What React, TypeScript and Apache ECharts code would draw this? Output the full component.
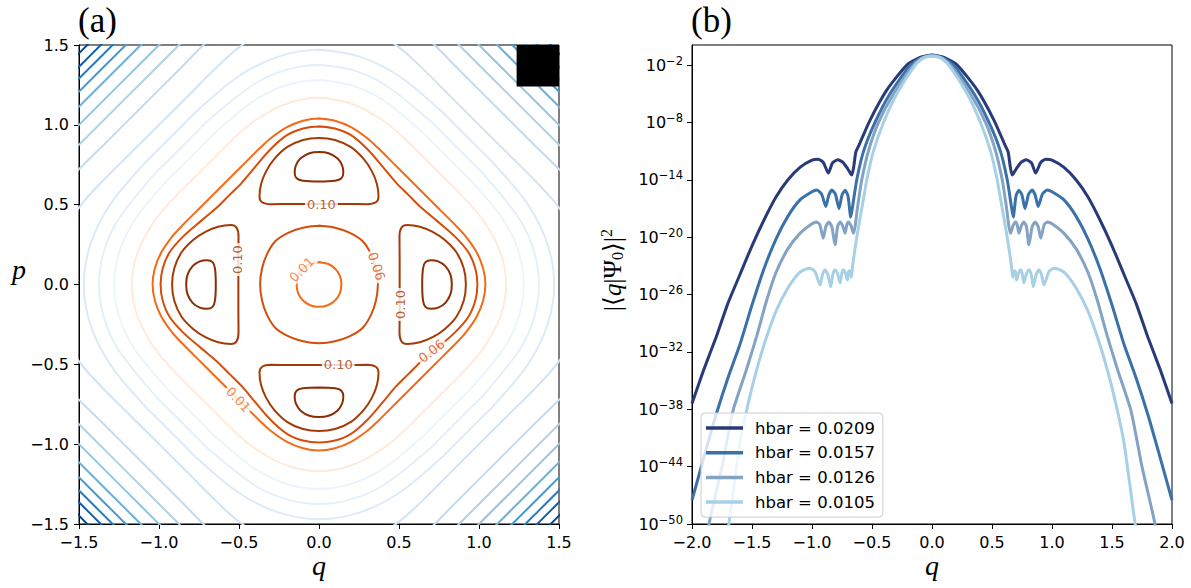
import { useEffect, useRef } from "react";
import * as echarts from "echarts";

type Pt = [number, number];

// ---------------- Panel (a): contours in the (q, p) plane ----------------
// Closed contours share the square's eight-fold symmetry; each one is traced
// over a single octant, from the p axis (q = 0) out to the diagonal q = p.
const faintLevelOctant: Pt[] = [[0, 1.17], [0.2, 1.134], [0.4, 1.027], [0.56, 0.89], [0.64, 0.81], [0.725, 0.725]];
const level001Octant: Pt[] = [[0, 1.04], [0.1, 1.026], [0.2, 0.986], [0.3, 0.918], [0.368, 0.856], [0.49, 0.734], [0.612, 0.612]];
const level006Octant: Pt[] = [[0, 0.99], [0.1, 0.977], [0.2, 0.935], [0.3, 0.85], [0.4, 0.735], [0.48, 0.64], [0.56, 0.56]];
const centre006Octant: Pt[] = [[0, 0.368], [0.1, 0.356], [0.19, 0.325], [0.272, 0.272]];
const centre001Octant: Pt[] = [[0, 0.14], [0.055, 0.13], [0.1, 0.1]];

// Outer family, innermost first; the outer ones leave the frame.
const blueOctants: Pt[][] = [
  [[0, 1.28], [0.2, 1.249], [0.4, 1.155], [0.64, 0.96], [0.72, 0.88], [0.8, 0.8]],
  [[0, 1.375], [0.2, 1.346], [0.4, 1.259], [0.69, 1.03], [0.78, 0.94], [0.86, 0.86]],
  [[0, 1.47], [0.25, 1.429], [0.5, 1.306], [0.76, 1.09], [0.84, 1.01], [0.925, 0.925]],
  [[0, 1.68], [0.3, 1.61], [0.494, 1.49], [0.64, 1.36], [0.82, 1.18], [1.0, 1.0]],
  [[0, 1.9], [0.4, 1.78], [0.64, 1.58], [0.88, 1.34], [1.11, 1.11]],
  [[0, 2.07], [0.6, 1.775], [0.9, 1.475], [1.1875, 1.1875]],
  [[0, 2.2], [0.6, 1.9], [0.95, 1.55], [1.25, 1.25]],
  [[0, 2.31], [0.6, 2.014], [1.0, 1.614], [1.307, 1.307]],
  [[0, 2.41], [0.6, 2.108], [1.0, 1.708], [1.354, 1.354]],
  [[0, 2.49], [0.6, 2.19], [1.0, 1.79], [1.395, 1.395]],
  [[0, 2.56], [0.6, 2.264], [1.0, 1.864], [1.432, 1.432]],
  [[0, 2.65], [0.6, 2.348], [1.0, 1.948], [1.474, 1.474]],
];

// The upper island, traced in full; the other three are its quarter turns.
const island010Upper: Pt[] = [
  [0, 0.504], [0.17, 0.504], [0.3, 0.503], [0.355, 0.515], [0.372, 0.55], [0.362, 0.63],
  [0.33, 0.71], [0.28, 0.785], [0.2, 0.86], [0.1, 0.905], [0, 0.918], [-0.1, 0.905],
  [-0.2, 0.86], [-0.28, 0.785], [-0.33, 0.71], [-0.362, 0.63], [-0.372, 0.55],
  [-0.355, 0.515], [-0.3, 0.503], [-0.17, 0.504], [0, 0.504],
];
const islandCoreUpper: Pt[] = [
  [0, 0.645], [0.1, 0.65], [0.14, 0.665], [0.152, 0.7], [0.145, 0.745], [0.115, 0.79],
  [0.06, 0.822], [0, 0.83], [-0.06, 0.822], [-0.115, 0.79], [-0.145, 0.745], [-0.152, 0.7],
  [-0.14, 0.665], [-0.1, 0.65], [0, 0.645],
];

// Inline level labels
const levelLabelText = ["0.10", "0.10", "0.10", "0.10", "0.06", "0.01", "0.06", "0.01"];
const levelLabelAt: Pt[] = [
  [0.015, 0.504], [0.12, -0.503], [-0.508, 0.156], [0.508, -0.125],
  [0.36, 0.114], [-0.108, 0.094], [0.704, -0.417], [-0.504, -0.72],
];
const levelLabelAngle = [0, 0, 90, 90, -72, 45, 38, -47];

// Filled block in the upper-right corner: [q0, p0, q1, p1]
const cornerBlock = [1.235, 1.24, 1.5, 1.5];

// ---------------- Panel (b): log10 |<q|Psi_0>|^2 ----------------
const hbarValues = ["0.0209", "0.0157", "0.0126", "0.0105"];
// Traced for q <= 0; every curve is even in q.
const logPsi0209: Pt[] = [
  [-2.0, -37.4], [-1.9, -33.8], [-1.8, -30.5], [-1.7, -26.9], [-1.6, -23.9], [-1.5, -20.9],
  [-1.4, -18.2], [-1.3, -15.8], [-1.2, -14.0], [-1.1, -12.7], [-1.0, -11.95], [-0.947, -11.85],
  [-0.905, -12.2], [-0.864, -13.3], [-0.83, -12.25], [-0.785, -11.9], [-0.74, -12.2],
  [-0.7, -12.9], [-0.668, -13.5], [-0.652, -12.6], [-0.635, -11.1], [-0.613, -10.5],
  [-0.516, -7.75], [-0.376, -4.6], [-0.21, -2.0], [-0.1, -1.2], [0, -0.95],
];
const logPsi0157: Pt[] = [
  [-2.0, -47.5], [-1.9, -43.0], [-1.8, -38.6], [-1.7, -34.7], [-1.6, -31.2], [-1.5, -27.1],
  [-1.4, -23.3], [-1.3, -20.2], [-1.2, -17.8], [-1.1, -16.1], [-1.0, -15.25], [-0.961, -15.07],
  [-0.92, -15.5], [-0.885, -16.8], [-0.86, -15.6], [-0.835, -15.07], [-0.805, -15.5],
  [-0.775, -17.0], [-0.75, -15.6], [-0.724, -15.1], [-0.7, -15.7], [-0.677, -17.9],
  [-0.663, -16.9], [-0.627, -14.0], [-0.57, -11.0], [-0.475, -8.0], [-0.35, -5.0],
  [-0.18, -2.0], [-0.09, -1.25], [0, -0.98],
];
const logPsi0126: Pt[] = [
  [-1.9, -53.0], [-1.85, -49.5], [-1.75, -44.0], [-1.657, -38.1], [-1.55, -34.0],
  [-1.462, -30.4], [-1.38, -26.7], [-1.3, -23.7], [-1.2, -21.2], [-1.1, -19.6], [-1.0, -18.6],
  [-0.961, -18.4], [-0.935, -18.7], [-0.906, -20.1], [-0.885, -18.9], [-0.86, -18.4],
  [-0.835, -18.9], [-0.808, -20.8], [-0.787, -18.9], [-0.766, -18.4], [-0.745, -18.8],
  [-0.724, -19.6], [-0.71, -18.7], [-0.697, -18.4], [-0.675, -18.8], [-0.655, -19.6],
  [-0.64, -18.8], [-0.622, -17.0], [-0.585, -14.0], [-0.53, -11.0], [-0.446, -8.0],
  [-0.32, -5.0], [-0.154, -2.0], [-0.08, -1.25], [0, -1.02],
];
const logPsi0105: Pt[] = [
  [-1.75, -55.0], [-1.684, -49.2], [-1.6, -41.5], [-1.53, -37.3], [-1.462, -33.9],
  [-1.38, -30.5], [-1.295, -27.6], [-1.2, -25.3], [-1.12, -23.9], [-1.073, -23.45],
  [-1.017, -23.25], [-0.975, -23.6], [-0.933, -25.0], [-0.91, -23.8], [-0.891, -23.4],
  [-0.868, -23.9], [-0.844, -25.2], [-0.825, -23.8], [-0.808, -23.4], [-0.787, -23.8],
  [-0.766, -24.8], [-0.752, -23.8], [-0.739, -23.4], [-0.72, -23.8], [-0.705, -24.5],
  [-0.695, -23.6], [-0.685, -23.5], [-0.672, -24.2], [-0.66, -22.8], [-0.627, -20.0],
  [-0.585, -17.0], [-0.543, -14.0], [-0.488, -11.0], [-0.404, -8.0], [-0.293, -5.0],
  [-0.14, -2.0], [-0.07, -1.25], [0, -1.05],
];
const yTickExponents = [-50, -44, -38, -32, -26, -20, -14, -8, -2];

// ---------------- styles ----------------
const blueColors = [
  "#edf4fb", "#e6eff9", "#deeaf7", "#d2e3f3", "#c4dbef", "#afd1e7",
  "#94c4df", "#6eb0d7", "#4a98c9", "#2b7bba", "#125da6", "#08438a",
];
const orangeColors = { faint: "#feebdc", l001: "#f26b17", l006: "#d64d0a", l010: "#a33b06", core: "#8a2e05" };
const psiColors = ["#283a77", "#3a71a9", "#84a3c4", "#a7d0e7"];
const sansFont = "DejaVu Sans";
const serifFont = "Liberation Serif";

// ---------------- helpers ----------------
function octantLoop(oct: Pt[]): Pt[] {
  const q1: Pt[] = [...oct, ...oct.slice(0, -1).reverse().map(([q, p]) => [p, q] as Pt)];
  const q4: Pt[] = q1.slice(0, -1).reverse().map(([q, p]) => [q, -p] as Pt);
  const right: Pt[] = [...q1, ...q4];
  const left: Pt[] = right.slice(0, -1).reverse().map(([q, p]) => [-q, p] as Pt);
  return [...right, ...left, right[1]];
}
const quarterTurns: ((pt: Pt) => Pt)[] = [
  ([q, p]) => [q, p],
  ([q, p]) => [-p, q],
  ([q, p]) => [-q, -p],
  ([q, p]) => [p, -q],
];
function evenCurve(half: Pt[]): Pt[] {
  return [...half, ...half.slice(0, -1).reverse().map(([q, e]) => [-q, e] as Pt)];
}
const signed = (v: number, digits: number) => (v < 0 ? "\u2212" : "") + Math.abs(v).toFixed(digits);

function contour(data: Pt[], color: string, width = 2, z = 2) {
  return {
    type: "line",
    xAxisIndex: 0,
    yAxisIndex: 0,
    data,
    symbol: "none",
    showSymbol: false,
    smooth: 0.35,
    clip: true,
    silent: true,
    z,
    lineStyle: { color, width },
  };
}

export default function App() {
  const ref = useRef<HTMLDivElement>(null);

  useEffect(() => {
    if (!ref.current) return;
    const chart = echarts.init(ref.current, undefined, { renderer: "svg" });

    const labelColor = (t: string) =>
      t === "0.10" ? orangeColors.l010 : t === "0.06" ? orangeColors.l006 : orangeColors.l001;

    const axisLine = { show: true, onZero: false, lineStyle: { color: "#000", width: 1 } };
    const axisTick = { show: true, length: 5, lineStyle: { color: "#000", width: 1 } };
    const tickLabel = { color: "#000", fontSize: 16, fontFamily: sansFont, showMinLabel: true, showMaxLabel: true };

    const series: any[] = [];
    blueOctants.forEach((oct, i) => series.push(contour(octantLoop(oct), blueColors[i], 2, 2)));
    series.push(contour(octantLoop(faintLevelOctant), orangeColors.faint, 2, 3));
    series.push(contour(octantLoop(level001Octant), orangeColors.l001, 2, 3));
    series.push(contour(octantLoop(level006Octant), orangeColors.l006, 2, 3));
    series.push(contour(octantLoop(centre006Octant), orangeColors.l006, 2, 3));
    series.push(contour(octantLoop(centre001Octant), orangeColors.l001, 2, 3));
    quarterTurns.forEach((turn) => {
      series.push(contour(island010Upper.map(turn), orangeColors.l010, 2, 3));
      series.push(contour(islandCoreUpper.map(turn), orangeColors.core, 2, 3));
    });
    series.push({
      type: "scatter",
      xAxisIndex: 0,
      yAxisIndex: 0,
      silent: true,
      z: 6,
      symbolSize: 1,
      itemStyle: { color: "transparent" },
      data: levelLabelAt.map((pt, i) => ({
        value: pt,
        name: levelLabelText[i],
        label: { rotate: levelLabelAngle[i], color: labelColor(levelLabelText[i]) },
      })),
      label: {
        show: true,
        position: "inside",
        formatter: (p: any) => p.name,
        fontSize: 13,
        fontFamily: sansFont,
        backgroundColor: "#fff",
        padding: [0, 2],
      },
    });
    series.push({
      type: "custom",
      xAxisIndex: 0,
      yAxisIndex: 0,
      silent: true,
      z: 7,
      data: [cornerBlock],
      encode: { x: [0, 2], y: [1, 3] },
      renderItem: (_params: any, api: any) => {
        const a = api.coord([api.value(0), api.value(1)]);
        const b = api.coord([api.value(2), api.value(3)]);
        return {
          type: "rect",
          shape: {
            x: Math.min(a[0], b[0]),
            y: Math.min(a[1], b[1]),
            width: Math.abs(b[0] - a[0]),
            height: Math.abs(b[1] - a[1]),
          },
          style: { fill: "#000" },
        };
      },
    });

    const psiSeries = [logPsi0209, logPsi0157, logPsi0126, logPsi0105];
    psiSeries.forEach((half, i) => {
      series.push({
        type: "line",
        name: `hbar = ${hbarValues[i]}`,
        xAxisIndex: 1,
        yAxisIndex: 1,
        data: evenCurve(half),
        symbol: "none",
        showSymbol: false,
        smooth: 0.2,
        clip: true,
        silent: true,
        z: 3,
        color: psiColors[i],
        lineStyle: { color: psiColors[i], width: 3 },
      });
    });

    chart.setOption({
      animation: false,
      grid: [
        { left: 79, top: 45, width: 480, height: 479, show: true, borderColor: "#000", borderWidth: 1 },
        { left: 692, top: 45, width: 480, height: 479, show: true, borderColor: "#000", borderWidth: 1 },
      ],
      xAxis: [
        {
          type: "value", gridIndex: 0, min: -1.5, max: 1.5, interval: 0.5,
          axisLine, axisTick, splitLine: { show: false },
          axisLabel: { ...tickLabel, margin: 10, formatter: (v: number) => signed(v, 1) },
        },
        {
          type: "value", gridIndex: 1, min: -2, max: 2, interval: 0.5,
          axisLine, axisTick, splitLine: { show: false },
          axisLabel: { ...tickLabel, margin: 10, formatter: (v: number) => signed(v, 1) },
        },
      ],
      yAxis: [
        {
          type: "value", gridIndex: 0, min: -1.5, max: 1.5, interval: 0.5,
          axisLine, axisTick, splitLine: { show: false },
          axisLabel: { ...tickLabel, margin: 10, formatter: (v: number) => signed(v, 1) },
        },
        {
          type: "value", gridIndex: 1, min: -50, max: 0.1,
          axisLine,
          axisTick: { ...axisTick, customValues: yTickExponents },
          splitLine: { show: false },
          axisLabel: {
            customValues: yTickExponents,
            showMinLabel: true,
            margin: 9,
            formatter: (v: number) => `{b|10}{e|${signed(v, 0)}}`,
            rich: {
              b: { fontSize: 16, fontFamily: sansFont, color: "#000" },
              e: { fontSize: 11.5, fontFamily: sansFont, color: "#000", padding: [0, 0, 9, 0] },
            },
          },
        },
      ],
      legend: {
        data: hbarValues.map((h) => `hbar = ${h}`),
        orient: "vertical",
        left: 701,
        top: 413,
        icon: "rect",
        itemWidth: 37,
        itemHeight: 3.5,
        itemGap: 6.7,
        padding: [6, 8, 6, 5],
        backgroundColor: "rgba(255,255,255,0.8)",
        borderColor: "#cccccc",
        borderWidth: 1,
        borderRadius: 4,
        selectedMode: false,
        textStyle: { fontSize: 16.5, fontFamily: sansFont, color: "#000", lineHeight: 18, padding: [0, 0, 0, 7] },
      },
      graphic: [
        { type: "text", left: 78, top: 3, style: { text: "(a)", fontSize: 35, fontFamily: serifFont, fill: "#000" } },
        { type: "text", left: 691, top: 3, style: { text: "(b)", fontSize: 35, fontFamily: serifFont, fill: "#000" } },
        { type: "text", x: 319, y: 565, style: { text: "q", fontSize: 28, fontStyle: "italic", fontFamily: serifFont, fill: "#000", align: "center", verticalAlign: "middle" } },
        { type: "text", x: 932, y: 565, style: { text: "q", fontSize: 28, fontStyle: "italic", fontFamily: serifFont, fill: "#000", align: "center", verticalAlign: "middle" } },
        { type: "text", x: 19, y: 269, style: { text: "p", fontSize: 28, fontStyle: "italic", fontFamily: serifFont, fill: "#000", align: "center", verticalAlign: "middle" } },
        {
          type: "text",
          x: 612,
          y: 270,
          rotation: Math.PI / 2,
          style: {
            text: "{t||\u27e8}{i|q}{t||\u03a8}{s|0}{t|\u27e9|}{u|2}",
            align: "center",
            verticalAlign: "middle",
            fill: "#000",
            rich: {
              t: { fontSize: 25, fontFamily: serifFont, fill: "#000" },
              i: { fontSize: 25, fontFamily: serifFont, fontStyle: "italic", fill: "#000" },
              s: { fontSize: 16, fontFamily: serifFont, fill: "#000", padding: [10, 0, 0, 0] },
              u: { fontSize: 16, fontFamily: serifFont, fill: "#000", padding: [0, 0, 12, 0] },
            },
          },
        },
      ],
      series,
    });

    return () => chart.dispose();
  }, []);

  return <div ref={ref} style={{ position: "absolute", left: 0, top: 0, width: 1191, height: 588, background: "#fff" }} />;
}
